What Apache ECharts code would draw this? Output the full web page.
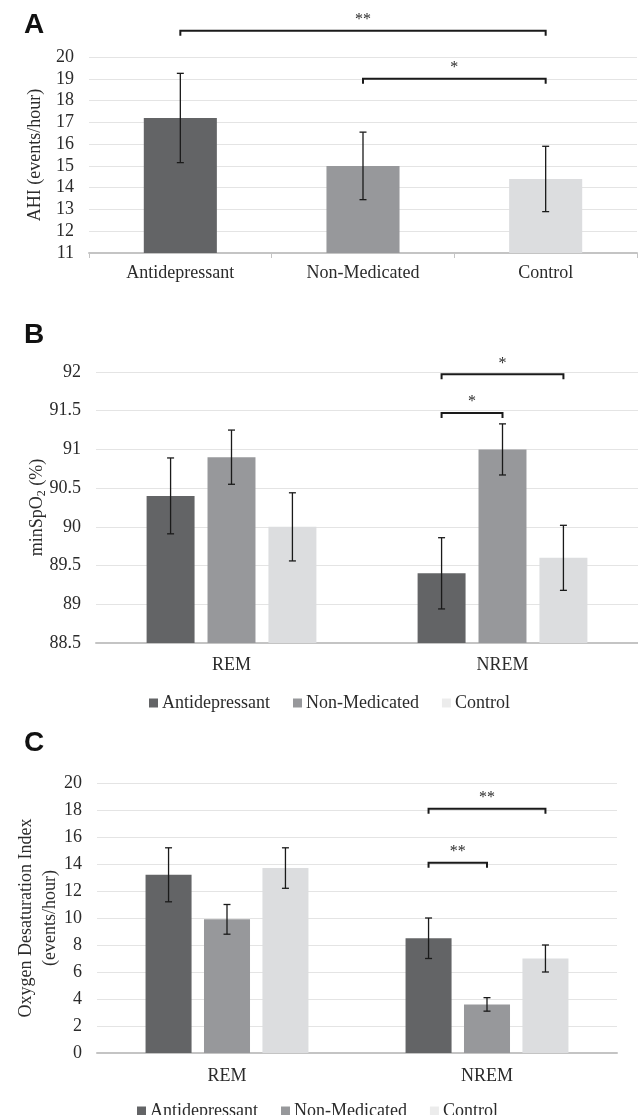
<!DOCTYPE html>
<html>
<head>
<meta charset="utf-8">
<script src="https://cdn.jsdelivr.net/npm/echarts@6/dist/echarts.min.js"></script>
<style>
html,body{margin:0;padding:0;background:#fff;}
#chart{width:638px;height:1115px;}
</style>
</head>
<body>
<div id="chart"></div>
<script>
// ---------- DATA ----------
const groups = ['Antidepressant', 'Non-Medicated', 'Control'];
const stages = ['REM', 'NREM'];

// Panel A: AHI (events/hour)
const ahiMean = [17.2, 15.0, 14.4];
const ahiErr = [2.05, 1.55, 1.5];
const ahiTicks = [11, 20, 1];
// brackets: [fromCategory, toCategory, yValue]
const ahiBrackets = [[0, 2, 21.2], [1, 2, 19.0]];
const ahiBracketLabels = ['**', '*'];

// Panel B: minSpO2 (%)
const spo2Antidep = [90.4, 89.4];
const spo2NonMed = [90.9, 91.0];
const spo2Control = [90.0, 89.6];
const spo2AntidepErr = [0.49, 0.46];
const spo2NonMedErr = [0.35, 0.33];
const spo2ControlErr = [0.44, 0.42];
const spo2Ticks = [88.5, 92, 0.5];
// brackets: [category, fromGroup, toGroup, yValue]
const spo2Brackets = [[1, 0, 2, 91.97], [1, 0, 1, 91.47]];
const spo2BracketLabels = ['*', '*'];

// Panel C: Oxygen Desaturation Index (events/hour)
const odiAntidep = [13.2, 8.5];
const odiNonMed = [9.9, 3.6];
const odiControl = [13.7, 7.0];
const odiAntidepErr = [2.0, 1.5];
const odiNonMedErr = [1.1, 0.5];
const odiControlErr = [1.5, 1.0];
const odiTicks = [0, 20, 2];
const odiBrackets = [[1, 0, 2, 18.1], [1, 0, 1, 14.1]];
const odiBracketLabels = ['**', '**'];

// ---------- STYLE ----------
const colors = ['#636466', '#97989b', '#dcdddf'];
const legendColors = ['#636466', '#97989b', '#ececec'];
const SERIF = 'Liberation Serif';
const TXT = '#2b2b2b';
const BAR_PCT_A = 0.40;
const BAR_PCT_G = 0.177;
const GAP_PCT = 0.27;

function errShape(x, yTop, yBot, cap) {
  return [
    {type: 'line', shape: {x1: x, y1: yTop, x2: x, y2: yBot}, style: {stroke: '#1a1a1a', lineWidth: 1.3}},
    {type: 'line', shape: {x1: x - cap, y1: yTop, x2: x + cap, y2: yTop}, style: {stroke: '#1a1a1a', lineWidth: 1.3}},
    {type: 'line', shape: {x1: x - cap, y1: yBot, x2: x + cap, y2: yBot}, style: {stroke: '#1a1a1a', lineWidth: 1.3}}
  ];
}

function simpleErrRender(params, api) {
  const cat = api.value(0), m = api.value(1), e = api.value(2);
  const x = api.coord([cat, m])[0];
  const yt = api.coord([cat, m + e])[1];
  const yb = api.coord([cat, m - e])[1];
  return {type: 'group', children: errShape(x, yt, yb, 3.5)};
}

function groupedErrRender(gi) {
  return function (params, api) {
    const cat = api.value(0), m = api.value(1), e = api.value(2);
    const bw = api.size([1, 0])[0] * BAR_PCT_G;
    const step = bw * (1 + GAP_PCT);
    const x = api.coord([cat, m])[0] + (gi - 1) * step;
    const yt = api.coord([cat, m + e])[1];
    const yb = api.coord([cat, m - e])[1];
    return {type: 'group', children: errShape(x, yt, yb, 3.5)};
  };
}

function bracketShape(x1, x2, y, label) {
  return {type: 'group', children: [
    {type: 'polyline', shape: {points: [[x1, y + 5], [x1, y], [x2, y], [x2, y + 5]]},
     style: {stroke: '#1a1a1a', lineWidth: 2, fill: null}},
    {type: 'text', x: (x1 + x2) / 2, y: y - 3,
     style: {text: label, fill: TXT, font: '16px "Liberation Serif"', align: 'center', verticalAlign: 'bottom'}}
  ]};
}

function simpleBracketRender(labels) {
  return function (params, api) {
    const c1 = api.value(0), c2 = api.value(1), yv = api.value(2);
    const p1 = api.coord([c1, yv]), p2 = api.coord([c2, yv]);
    return bracketShape(p1[0], p2[0], p1[1], labels[params.dataIndex]);
  };
}

function groupedBracketRender(labels) {
  return function (params, api) {
    const cat = api.value(0), g1 = api.value(1), g2 = api.value(2), yv = api.value(3);
    const bw = api.size([1, 0])[0] * BAR_PCT_G;
    const step = bw * (1 + GAP_PCT);
    const p = api.coord([cat, yv]);
    return bracketShape(p[0] + (g1 - 1) * step, p[0] + (g2 - 1) * step, p[1], labels[params.dataIndex]);
  };
}

const labelStyle = {fontFamily: SERIF, fontSize: 18, color: TXT};

function yAxisCfg(gridIndex, ticks, name, nameGap, extra) {
  return Object.assign({
    type: 'value', gridIndex: gridIndex,
    min: ticks[0], max: ticks[1], interval: ticks[2],
    axisLine: {show: false}, axisTick: {show: false},
    axisLabel: Object.assign({margin: 15}, labelStyle),
    splitLine: {lineStyle: {color: '#e4e4e4', width: 1}},
    name: name, nameLocation: 'middle', nameGap: nameGap, nameMoveOverlap: false,
    nameTextStyle: {fontFamily: SERIF, fontSize: 18, color: TXT}
  }, extra || {});
}

function xAxisCfg(gridIndex, data, showTick, margin) {
  return {
    type: 'category', gridIndex: gridIndex, data: data,
    axisLine: {lineStyle: {color: '#c4c4c4', width: 2}},
    axisTick: {show: showTick, length: 5, lineStyle: {color: '#c4c4c4', width: 1}},
    axisLabel: Object.assign({margin: margin}, labelStyle)
  };
}

const spo2Means = [spo2Antidep, spo2NonMed, spo2Control];
const spo2Errs = [spo2AntidepErr, spo2NonMedErr, spo2ControlErr];
const odiMeans = [odiAntidep, odiNonMed, odiControl];
const odiErrs = [odiAntidepErr, odiNonMedErr, odiControlErr];

const series = [];

// Panel A bars
series.push({
  type: 'bar', name: 'AHI', xAxisIndex: 0, yAxisIndex: 0,
  barWidth: (BAR_PCT_A * 100) + '%',
  data: ahiMean.map((v, i) => ({value: v, itemStyle: {color: colors[i]}})),
  z: 2
});
series.push({
  type: 'custom', name: 'AHI err', xAxisIndex: 0, yAxisIndex: 0,
  data: ahiMean.map((v, i) => [i, v, ahiErr[i]]),
  encode: {x: 0, y: 1}, renderItem: simpleErrRender, z: 5, silent: true
});
series.push({
  type: 'custom', name: 'AHI sig', xAxisIndex: 0, yAxisIndex: 0, clip: false,
  data: ahiBrackets, encode: {x: 0, y: 2},
  renderItem: simpleBracketRender(ahiBracketLabels), z: 6, silent: true
});

// Panels B & C grouped bars
[[1, spo2Means, spo2Errs, spo2Brackets, spo2BracketLabels],
 [2, odiMeans, odiErrs, odiBrackets, odiBracketLabels]].forEach(function (cfg) {
  const gi = cfg[0], means = cfg[1], errs = cfg[2], br = cfg[3], brl = cfg[4];
  groups.forEach(function (g, k) {
    series.push({
      type: 'bar', name: g, xAxisIndex: gi, yAxisIndex: gi,
      barWidth: (BAR_PCT_G * 100) + '%', barGap: (GAP_PCT * 100) + '%',
      itemStyle: {color: colors[k]},
      data: means[k], z: 2
    });
  });
  groups.forEach(function (g, k) {
    series.push({
      type: 'custom', name: g + ' err', xAxisIndex: gi, yAxisIndex: gi,
      data: means[k].map((v, i) => [i, v, errs[k][i]]),
      encode: {x: 0, y: 1}, renderItem: groupedErrRender(k), z: 5, silent: true
    });
  });
  series.push({
    type: 'custom', name: 'sig' + gi, xAxisIndex: gi, yAxisIndex: gi, clip: false,
    data: br, encode: {x: 0, y: 3},
    renderItem: groupedBracketRender(brl), z: 6, silent: true
  });
});

const legendBase = {
  data: groups.map((g, k) => ({name: g, itemStyle: {color: legendColors[k]}})),
  icon: 'rect', itemWidth: 9, itemHeight: 9, itemGap: 23,
  textStyle: {fontFamily: SERIF, fontSize: 18, color: TXT, padding: [0, 0, 0, -1]},
  selectedMode: false
};

const option = {
  animation: false,
  backgroundColor: '#fff',
  title: [
    {text: 'A', left: 19, top: 6, textStyle: {fontFamily: 'Liberation Sans', fontWeight: 'bold', fontSize: 28, color: '#111'}},
    {text: 'B', left: 19, top: 316, textStyle: {fontFamily: 'Liberation Sans', fontWeight: 'bold', fontSize: 28, color: '#111'}},
    {text: 'C', left: 19, top: 724, textStyle: {fontFamily: 'Liberation Sans', fontWeight: 'bold', fontSize: 28, color: '#111'}}
  ],
  grid: [
    {left: 89, right: 1, top: 57, height: 196},
    {left: 96, right: 0, top: 372, height: 271},
    {left: 97, right: 21, top: 783, height: 270}
  ],
  xAxis: [
    xAxisCfg(0, groups, true, 11),
    xAxisCfg(1, stages, false, 13),
    xAxisCfg(2, stages, false, 14)
  ],
  yAxis: [
    yAxisCfg(0, ahiTicks, 'AHI (events/hour)', 45),
    yAxisCfg(1, spo2Ticks, '{n|minSpO}{s|2}{n| (%)}', 48, {
      nameTextStyle: {rich: {
        n: {fontFamily: SERIF, fontSize: 18, color: TXT, lineHeight: 22},
        s: {fontFamily: SERIF, fontSize: 12, color: TXT, lineHeight: 12, verticalAlign: 'bottom'}
      }}
    }),
    yAxisCfg(2, odiTicks, 'Oxygen Desaturation Index\n(events/hour)', 35, {
      nameTextStyle: {fontFamily: SERIF, fontSize: 18, color: TXT, lineHeight: 24}
    })
  ],
  legend: [
    Object.assign({left: 144, top: 689}, legendBase),
    Object.assign({left: 132, top: 1097}, legendBase)
  ],
  series: series
};

const chart = echarts.init(document.getElementById('chart'), null, {renderer: 'canvas'});
chart.setOption(option);
</script>
</body>
</html>
